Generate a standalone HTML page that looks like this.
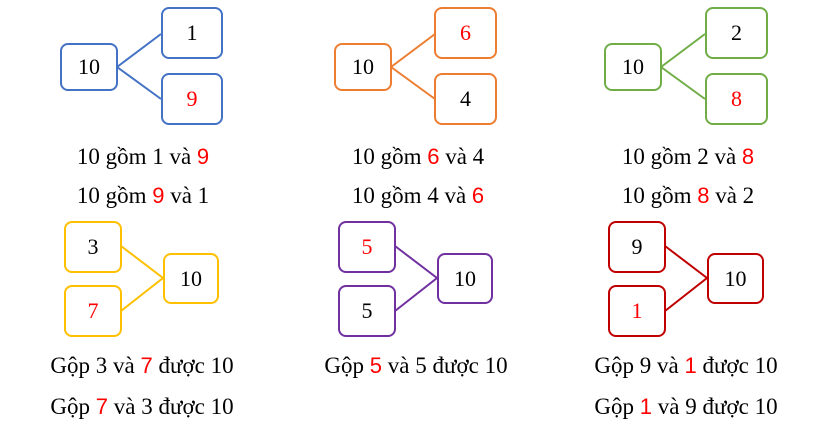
<!DOCTYPE html>
<html><head><meta charset="utf-8"><style>
body{margin:0;width:828px;height:428px;background:#fff;position:relative;overflow:hidden;font-family:"Liberation Serif",serif;}
.b{position:absolute;box-sizing:border-box;border:2px solid;border-radius:8px;display:flex;align-items:center;justify-content:center;font-size:22px;color:#000;background:#fff}
.r{color:#f00}
.t{position:absolute;width:260px;text-align:center;font-size:23px;line-height:26px;color:#000;white-space:nowrap}
.t .r{font-family:"Liberation Sans",sans-serif;font-size:22px}
svg{position:absolute;left:0;top:0}
</style></head><body>
<svg width="828" height="428">
<g stroke-width="2" fill="none">
<path d="M117 67L161 34M117 67L161 99" stroke="#4472c4"/>
<path d="M391 67L435 34M391 67L435 99" stroke="#ed7d31"/>
<path d="M661 67L705 34M661 67L705 99" stroke="#70ad47"/>
<path d="M121 246L163 278L121 311" stroke="#ffc000"/>
<path d="M395 246L437 278L395 311" stroke="#7030a0"/>
<path d="M665 246L707 278L665 311" stroke="#c00000"/>
</g></svg>
<div class="b" style="left:60px;top:43px;width:58px;height:48px;border-color:#4472c4">10</div>
<div class="b" style="left:161px;top:7px;width:62px;height:52px;border-color:#4472c4">1</div>
<div class="b r" style="left:161px;top:73px;width:62px;height:52px;border-color:#4472c4;color:#f00">9</div>
<div class="b" style="left:334px;top:43px;width:58px;height:48px;border-color:#ed7d31">10</div>
<div class="b" style="left:434px;top:7px;width:63px;height:52px;border-color:#ed7d31;color:#f00">6</div>
<div class="b" style="left:434px;top:73px;width:63px;height:52px;border-color:#ed7d31">4</div>
<div class="b" style="left:604px;top:43px;width:58px;height:48px;border-color:#70ad47">10</div>
<div class="b" style="left:705px;top:7px;width:63px;height:52px;border-color:#70ad47">2</div>
<div class="b" style="left:705px;top:73px;width:63px;height:52px;border-color:#70ad47;color:#f00">8</div>

<div class="b" style="left:64px;top:221px;width:58px;height:52px;border-color:#ffc000">3</div>
<div class="b" style="left:64px;top:285px;width:58px;height:52px;border-color:#ffc000;color:#f00">7</div>
<div class="b" style="left:163px;top:253px;width:56px;height:51px;border-color:#ffc000">10</div>
<div class="b" style="left:338px;top:221px;width:58px;height:52px;border-color:#7030a0;color:#f00">5</div>
<div class="b" style="left:338px;top:285px;width:58px;height:52px;border-color:#7030a0">5</div>
<div class="b" style="left:437px;top:253px;width:56px;height:51px;border-color:#7030a0">10</div>
<div class="b" style="left:608px;top:221px;width:58px;height:52px;border-color:#c00000">9</div>
<div class="b" style="left:608px;top:285px;width:58px;height:52px;border-color:#c00000;color:#f00">1</div>
<div class="b" style="left:707px;top:253px;width:57px;height:51px;border-color:#c00000">10</div>

<div class="t" style="left:13px;top:144px">10 gồm 1 và <span class="r">9</span></div>
<div class="t" style="left:13px;top:183px">10 gồm <span class="r">9</span> và 1</div>
<div class="t" style="left:288px;top:144px">10 gồm <span class="r">6</span> và 4</div>
<div class="t" style="left:288px;top:183px">10 gồm 4 và <span class="r">6</span></div>
<div class="t" style="left:558px;top:144px">10 gồm 2 và <span class="r">8</span></div>
<div class="t" style="left:558px;top:183px">10 gồm <span class="r">8</span> và 2</div>

<div class="t" style="left:12px;top:353px">Gộp 3 và <span class="r">7</span> được 10</div>
<div class="t" style="left:12px;top:394px">Gộp <span class="r">7</span> và 3 được 10</div>
<div class="t" style="left:286px;top:353px">Gộp <span class="r">5</span> và 5 được 10</div>
<div class="t" style="left:556px;top:353px">Gộp 9 và <span class="r">1</span> được 10</div>
<div class="t" style="left:556px;top:394px">Gộp <span class="r">1</span> và 9 được 10</div>
</body></html>
